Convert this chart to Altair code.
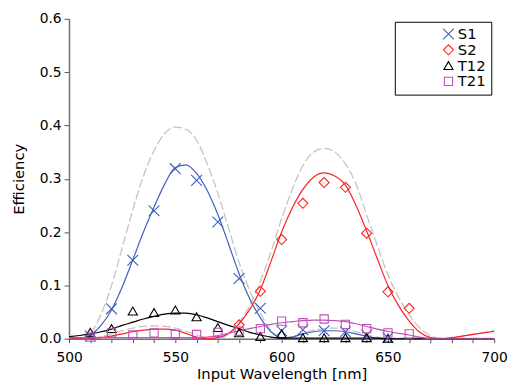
import altair as alt
import pandas as pd

# ---- measured points ----
wl_pts = [510, 520, 530, 540, 550, 560, 570, 580, 590, 600, 610, 620, 630, 640, 650, 660]
s1_pts = [0.005, 0.056, 0.147, 0.240, 0.319, 0.297, 0.219, 0.113, 0.057, 0.015, 0.017, 0.015, 0.013, 0.007, 0.002, None]
s2_pts = [None, None, None, None, None, None, None, 0.026, 0.089, 0.186, 0.254, 0.293, 0.284, 0.198, 0.088, 0.057]
t12_pts = [0.012, 0.019, 0.052, 0.049, 0.054, 0.041, 0.021, 0.011, 0.004, 0.009, 0.002, 0.002, 0.002, 0.002, 0.001, None]
t21_pts = [0.003, 0.011, 0.007, 0.011, 0.008, 0.008, 0.012, 0.014, 0.019, 0.033, 0.030, 0.037, 0.027, 0.019, 0.011, 0.009]

# ---- curves (read every 5 nm) ----
wl_fit = list(range(500, 705, 5))
s1_theory = [0.006, 0.001, 0.010, 0.045, 0.100, 0.170, 0.242, 0.305, 0.353, 0.385, 0.397, 0.393, 0.372, 0.328,
             0.273, 0.208, 0.143, 0.090, 0.048, 0.016, 0.002, 0.004, 0.010, 0.016, 0.019, 0.020, 0.018, 0.013,
             0.008, 0.003, 0.001, 0.001, 0.002, 0.002, 0.002, 0.001, 0.001, 0.001, 0.001, 0.001, 0.001]
s2_theory = [0.002, 0.000, 0.001, 0.004, 0.009, 0.015, 0.020, 0.023, 0.024, 0.023, 0.020, 0.014, 0.007, 0.002,
             0.001, 0.008, 0.030, 0.062, 0.107, 0.163, 0.225, 0.280, 0.325, 0.350, 0.357, 0.350, 0.328, 0.290,
             0.232, 0.175, 0.120, 0.078, 0.045, 0.020, 0.006, 0.001, 0.002, 0.005, 0.008, 0.012, 0.015]
s1_fit = [0.002, 0.000, 0.006, 0.025, 0.054, 0.097, 0.148, 0.200, 0.247, 0.290, 0.321, 0.326, 0.310, 0.278,
          0.233, 0.178, 0.122, 0.075, 0.039, 0.013, 0.001, 0.003, 0.009, 0.013, 0.015, 0.015, 0.013, 0.009,
          0.005, 0.001, 0.000, 0.000, 0.000, 0.000, 0.000, 0.000, 0.000, 0.000, 0.000, 0.000, 0.000]
s2_fit = [0.000, 0.000, 0.000, 0.002, 0.005, 0.009, 0.013, 0.016, 0.018, 0.018, 0.016, 0.010, 0.003, 0.000,
          0.002, 0.010, 0.028, 0.055, 0.092, 0.145, 0.200, 0.245, 0.280, 0.303, 0.311, 0.305, 0.288, 0.250,
          0.202, 0.150, 0.100, 0.062, 0.033, 0.012, 0.002, 0.000, 0.002, 0.005, 0.008, 0.011, 0.014]
t12_fit = [0.004, 0.006, 0.009, 0.013, 0.018, 0.025, 0.031, 0.037, 0.042, 0.046, 0.048, 0.048, 0.045, 0.039,
           0.032, 0.025, 0.019, 0.012, 0.007, 0.003, 0.001, 0.001, 0.001, 0.001, 0.001, 0.001, 0.001, 0.001,
           0.001, 0.001, 0.000, 0.000, 0.000, 0.000, 0.000, 0.000, 0.000, 0.000, 0.000, 0.000, 0.000]
t21_fit = [0.002, 0.002, 0.002, 0.002, 0.002, 0.002, 0.002, 0.002, 0.002, 0.002, 0.002, 0.002, 0.002, 0.003,
           0.006, 0.010, 0.015, 0.019, 0.023, 0.027, 0.030, 0.032, 0.034, 0.035, 0.035, 0.034, 0.032, 0.028,
           0.023, 0.018, 0.014, 0.010, 0.007, 0.003, 0.000, 0.000, 0.000, 0.000, 0.000, 0.000, 0.000]

series = ["S1", "S2", "T12", "T21"]
colors = ["#3f5fbf", "#ff2020", "#000000", "#c050b8"]
shapes = ["M-1,-1L1,1M-1,1L1,-1", "diamond", "triangle-up", "square"]

rows = []
for name, vals in zip(series, [s1_pts, s2_pts, t12_pts, t21_pts]):
    for w, v in zip(wl_pts, vals):
        if v is not None:
            rows.append({"wl": w, "eff": v, "series": name})
pts = pd.DataFrame(rows)

frows = []
for name, vals in zip(["S1t", "S2t", "S1", "S2", "T12", "T21"],
                      [s1_theory, s2_theory, s1_fit, s2_fit, t12_fit, t21_fit]):
    for w, v in zip(wl_fit, vals):
        frows.append({"wl": w, "eff": v, "curve": name})
fits = pd.DataFrame(frows)

xs = alt.X("wl:Q", scale=alt.Scale(domain=[500, 700], nice=False),
           axis=alt.Axis(title="Input Wavelength [nm]", values=list(range(500, 710, 10)),
                         labelExpr="datum.value % 50 == 0 ? datum.value : ''",
                         labelFlush=False, labelOverlap=False,
                         grid=False, tickSize=4, labelPadding=8, titlePadding=2))
ys = alt.Y("eff:Q", scale=alt.Scale(domain=[0, 0.6], nice=False),
           axis=alt.Axis(title="Efficiency", values=[0, 0.1, 0.2, 0.3, 0.4, 0.5, 0.6], format=".1f",
                         labelFlush=False, grid=False, tickSize=5, labelPadding=3, titlePadding=13))

theory = alt.Chart(fits).transform_filter(
    alt.FieldOneOfPredicate(field="curve", oneOf=["S1t", "S2t"])
).mark_line(color="#c4c4c4", strokeDash=[9, 3], strokeWidth=1.3, interpolate="monotone").encode(
    x=xs, y=ys, detail="curve:N")

fitlines = alt.Chart(fits).transform_filter(
    alt.FieldOneOfPredicate(field="curve", oneOf=series)
).mark_line(strokeWidth=1.2, interpolate="monotone").encode(
    x=xs, y=ys,
    color=alt.Color("curve:N", scale=alt.Scale(domain=series, range=colors), legend=None))

leg = alt.Legend(title=None, orient="top-right", offset=3,
                 strokeColor="black", fillColor="white", padding=5,
                 labelFontSize=15, labelFont="DejaVu Sans", labelColor="black", rowPadding=-1,
                 symbolStrokeWidth=1.1, symbolSize=100, symbolOffset=42, labelOffset=2)

points = alt.Chart(pts).mark_point(filled=False, strokeWidth=1.1, opacity=1).encode(
    x=xs, y=ys,
    color=alt.Color("series:N", scale=alt.Scale(domain=series, range=colors), legend=leg),
    shape=alt.Shape("series:N", scale=alt.Scale(domain=series, range=shapes), legend=leg),
    size=alt.Size("series:N", scale=alt.Scale(domain=series, range=[120, 70, 45, 90]), legend=None))

chart = alt.layer(theory, fitlines, points).resolve_scale(
    color="independent", shape="independent", size="independent"
).resolve_legend(color="independent", shape="independent").properties(
    width=432, height=325,
    autosize=alt.AutoSizeParams(type="none"),
    padding={"left": 62, "top": 8, "right": 14, "bottom": 43}
).configure_axis(
    labelFont="DejaVu Sans", titleFont="DejaVu Sans", labelFontSize=14, titleFontSize=15,
    titleFontWeight="normal", labelColor="black", titleColor="black",
    domainColor="#707070", domainWidth=1.5, tickColor="#505050"
).configure_view(stroke=None)

chart.save("out.html", embed_options={"renderer": "svg", "actions": False})
